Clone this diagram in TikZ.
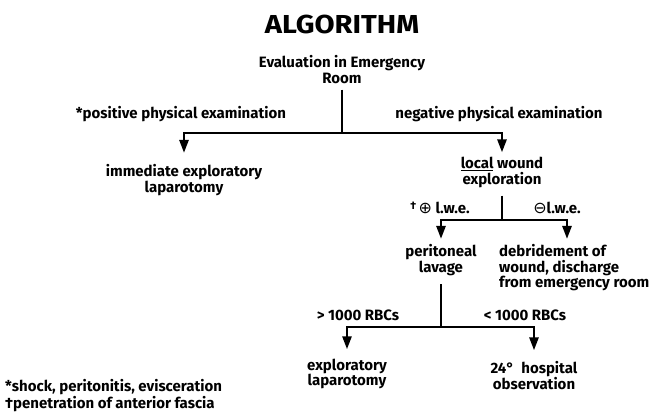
\documentclass[tikz,border=0pt]{standalone}
\usepackage{fontspec}
\setmainfont{Fira Sans}
\newfontfamily\symfont{DejaVu Sans}
\usetikzlibrary{arrows.meta}
\begin{document}
\begin{tikzpicture}[x=1pt,y=-1pt,
  lbl/.style={font=\bfseries\fontsize{15}{15.5}\selectfont, inner sep=0pt, align=center},
  conn/.style={line width=2.6pt},
  arr/.style={conn, -{Triangle[length=13pt,width=9pt]}}]
\useasboundingbox[fill=white] (0,0) rectangle (659,413);
\node[lbl, font=\bfseries\fontsize{26}{28}\selectfont] (title) at (342,24) {\scalebox{1.12}[1]{ALGORITHM}};
\node[lbl] (eval) at (342,69.5) {Evaluation in Emergency\\Room};
\node[lbl] (pos) at (181,114) {*positive physical examination};
\node[lbl] (neg) at (499,114) {negative physical examination};
\node[lbl] (immed) at (184,180) {immediate exploratory\\laparotomy};
\node[lbl] (local) at (502,172.5) {\underline{local} wound\\exploration};
\node[lbl] (plus) at (440,208) {\raisebox{4pt}{\fontsize{11}{11}\selectfont †}\,{\symfont\mdseries\fontsize{16}{16}\selectfont ⊕} l.w.e.};
\node[lbl] (minus) at (557,208) {{\symfont\mdseries\fontsize{16}{16}\selectfont ⊖}l.w.e.};
\node[lbl] (peri) at (441,260) {peritoneal\\lavage};
\node[lbl, align=left, anchor=west] (debr) at (499,268) {debridement of\\wound, discharge\\from emergency room};
\node[lbl] (gt) at (358,315) {> 1000 RBCs};
\node[lbl] (lt) at (525,315) {< 1000 RBCs};
\node[lbl] (expl) at (347,374) {exploratory\\laparotomy};
\node[lbl] (obs) at (534,375.5) {24°~~hospital\\observation};
\node[lbl, align=left, anchor=south west, font=\bfseries\fontsize{15}{14}\selectfont] (foot) at (5,412) {*shock, peritonitis, evisceration\\†penetration of anterior fascia};
\coordinate (j1) at (342,133);
\coordinate (j2) at (502,220);
\coordinate (j3) at (441,327);
\coordinate (d2) at (567,220);
\draw[conn, shorten <=5.9pt] (eval.south) -- (j1);
\draw[arr, shorten >=11.4pt] (j1) -| (immed.north);
\draw[arr, shorten >=4.8pt] (j1) -| (local.north);
\draw[conn, shorten <=7.9pt] (local.south) -- (j2);
\draw[arr, shorten >=5.4pt] (j2) -| (peri.north);
\draw[arr, shorten >=5.6pt] (j2) -- (d2) -- (d2 |- debr.north);
\draw[conn, shorten <=8.3pt] (peri.south) -- (j3);
\draw[arr, shorten >=9.4pt] (j3) -| (expl.north);
\draw[arr, shorten >=11pt] (j3) -| (obs.north);
\end{tikzpicture}
\end{document}
